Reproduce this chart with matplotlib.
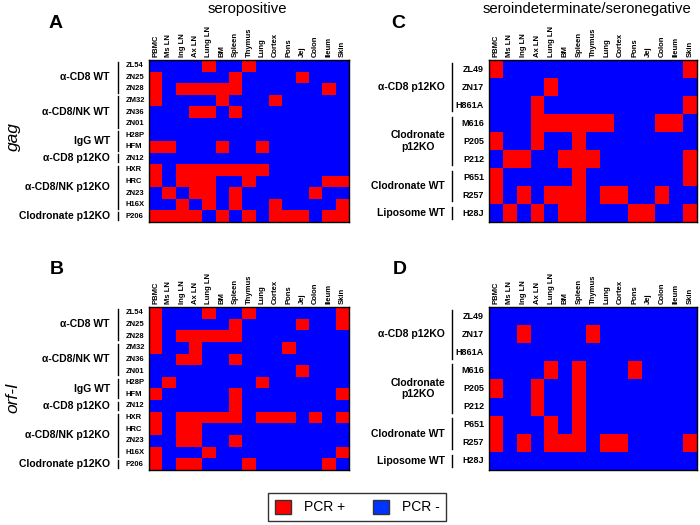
import numpy as np
import matplotlib.pyplot as plt
import matplotlib.transforms as mtransforms
from matplotlib.colors import ListedColormap
from matplotlib.patches import Patch

plt.rcParams['font.family'] = ['Liberation Sans', 'DejaVu Sans']

tissues = ['PBMC', 'Ms LN', 'Ing LN', 'Ax LN', 'Lung LN', 'BM', 'Spleen', 'Thymus',
           'Lung', 'Cortex', 'Pons', 'Jej', 'Colon', 'Ileum', 'Skin']

# seropositive animals (panels A, B)
pos_animals = ['ZL54', 'ZN25', 'ZN28', 'ZM32', 'ZN36', 'ZN01', 'H28P', 'HFM',
               'ZN12', 'HXR', 'HRC', 'ZN23', 'H16X', 'P206']
pos_groups = [('α-CD8 WT', 3), ('α-CD8/NK WT', 3), ('IgG WT', 2),
              ('α-CD8 p12KO', 1), ('α-CD8/NK p12KO', 4), ('Clodronate p12KO', 1)]

# seroindeterminate / seronegative animals (panels C, D)
neg_animals = ['ZL49', 'ZN17', 'H861A', 'M616', 'P205', 'P212', 'P651', 'R257', 'H28J']
neg_groups = [('α-CD8 p12KO', 3), ('Clodronate\np12KO', 3),
              ('Clodronate WT', 2), ('Liposome WT', 1)]

# 1 = PCR +, 0 = PCR -, one string per animal, one char per tissue
gag_pos = ['000010010000000',
           '100000100001000',
           '101111100000010',
           '100001000100000',
           '000110100000000',
           '000000000000000',
           '000000000000000',
           '110001001000000',
           '000000000000000',
           '101111111000000',
           '101110010000011',
           '010110100000100',
           '001010100100001',
           '111101010111011']

orf_pos = ['100010010000001',
           '100000100001001',
           '101111100000000',
           '100100000010000',
           '001100100000000',
           '000000000001000',
           '010000001000000',
           '100000100000001',
           '000000100000000',
           '101111101110101',
           '101100000000000',
           '001100100000000',
           '100010000000001',
           '101100010000010']

gag_neg = ['100000000000001',
           '000010000000000',
           '000100000000001',
           '000111111000110',
           '100100100000000',
           '011001110000001',
           '100000100000001',
           '101011101100100',
           '010101100011001']

orf_neg = ['000000000000000',
           '001000010000000',
           '000000000000000',
           '000010100010000',
           '100100100000000',
           '000100100000000',
           '100010100000000',
           '101011101100001',
           '000000000000000']

W, H = 700, 525
fig = plt.figure(figsize=(7, 5.25), dpi=100)
cmap = ListedColormap(['#0000ff', '#ff0000'])


def to_grid(rows):
    return np.array([[int(c) for c in r] for r in rows])


def panel(px, rows, animals, groups, name_x, name_ha, name_size, bar_x, group_x):
    # px = (left, top, right, bottom) in pixels
    l, t, r, b = px
    ax = fig.add_axes([l / W, 1 - b / H, (r - l) / W, (b - t) / H])
    grid = to_grid(rows)
    ax.imshow(grid, cmap=cmap, vmin=0, vmax=1, aspect='auto', interpolation='nearest')
    ax.set_xticks(range(len(tissues)))
    ax.set_xticklabels(tissues, rotation=90, fontsize=5.5, fontweight='bold')
    ax.xaxis.tick_top()
    ax.tick_params(length=0, pad=2)
    ax.set_yticks([])
    for s in ax.spines.values():
        s.set_linewidth(1)

    trans = mtransforms.blended_transform_factory(fig.transFigure, ax.transData)
    for i, a in enumerate(animals):
        ax.text(name_x / W, i, a, transform=trans, ha=name_ha, va='center',
                fontsize=name_size, fontweight='bold')
    start = 0
    for g, n in groups:
        ax.plot([bar_x / W, bar_x / W], [start - 0.35, start + n - 0.65],
                transform=trans, color='black', lw=1, clip_on=False)
        ax.text(group_x / W, start + (n - 1) / 2, g, transform=trans, ha='right',
                va='center', multialignment='center', fontsize=7.5, fontweight='bold')
        start += n
    ax.set_xlim(-0.5, len(tissues) - 0.5)
    ax.set_ylim(len(animals) - 0.5, -0.5)
    return ax


panel((149, 60, 349, 222), gag_pos, pos_animals, pos_groups, 126, 'left', 5.5, 118, 110)
panel((149, 307, 349, 470), orf_pos, pos_animals, pos_groups, 126, 'left', 5.5, 118, 110)
panel((489, 60, 697, 222), gag_neg, neg_animals, neg_groups, 484, 'right', 6.5, 452, 445)
panel((489, 307, 697, 470), orf_neg, neg_animals, neg_groups, 484, 'right', 6.5, 452, 445)

# titles and panel letters
fig.text(247 / W, 1 - 9 / H, 'seropositive', ha='center', va='center', fontsize=10.7)
fig.text(587 / W, 1 - 9 / H, 'seroindeterminate/seronegative', ha='center', va='center', fontsize=10.7)
for letter, x, y in [('A', 56, 23), ('B', 57, 270), ('C', 398, 23), ('D', 400, 270)]:
    fig.text(x / W, 1 - y / H, letter, ha='center', va='center', fontsize=14, fontweight='bold')
fig.text(13 / W, 1 - 137 / H, 'gag', rotation=90, ha='center', va='center',
         fontsize=12.5, style='italic')
fig.text(13 / W, 1 - 398 / H, 'orf-I', rotation=90, ha='center', va='center',
         fontsize=12.5, style='italic')

handles = [Patch(facecolor='#ff0000', edgecolor='#333333', label='PCR +'),
           Patch(facecolor='#0033ff', edgecolor='#333333', label='PCR -')]
leg = fig.legend(handles=handles, loc='center', bbox_to_anchor=(357 / W, 1 - 507 / H),
                 ncol=2, fontsize=10, frameon=True, fancybox=False, edgecolor='black',
                 handlelength=1.2, handleheight=1.2, handletextpad=0.9,
                 columnspacing=2.0, borderpad=0.5)
leg.get_frame().set_linewidth(1)

fig.savefig('out.png', dpi=100)
